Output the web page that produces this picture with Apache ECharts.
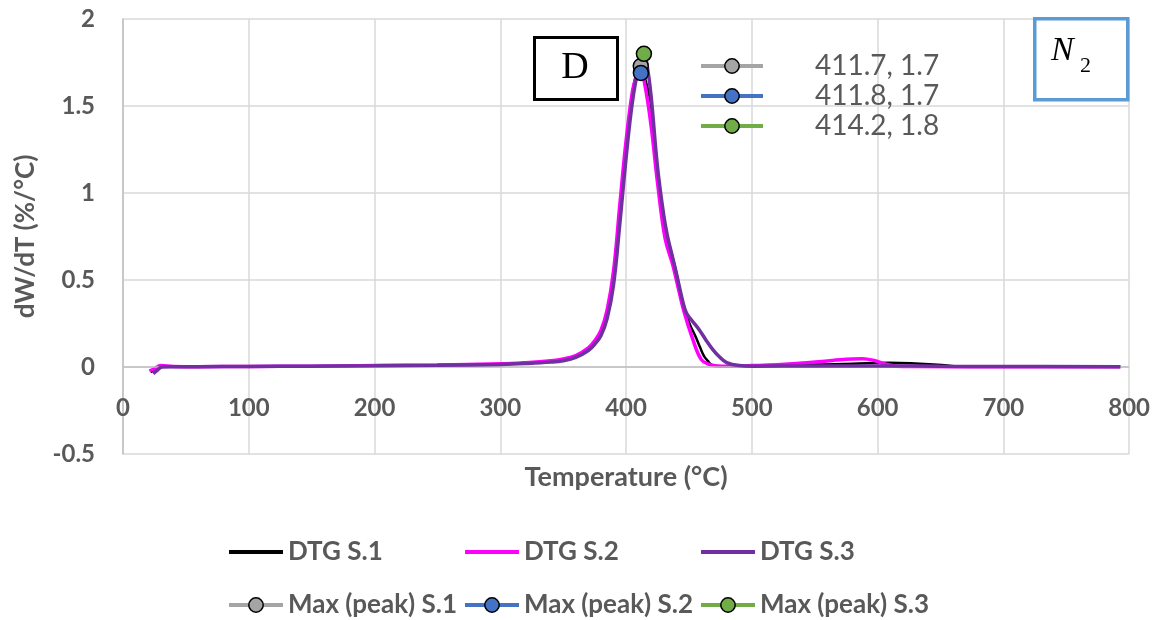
<!DOCTYPE html>
<html>
<head>
<meta charset="utf-8">
<script src="https://cdn.jsdelivr.net/npm/echarts@6/dist/echarts.min.js"></script>
<style>
  html, body { margin: 0; padding: 0; background: #ffffff; }
  #chart { width: 1153px; height: 620px; }
</style>
</head>
<body>
<div id="chart"></div>
<script>
// DTG curves (temperature in °C, dW/dT in %/°C)
const tempS1 = [22, 26, 30, 40, 60, 100, 150, 200, 250, 300, 320, 340, 350, 360, 370, 375, 380, 385, 390, 395, 400, 405, 408, 411.7, 415, 420, 425, 430, 433, 437, 440, 445, 448, 451, 455.6, 459, 462, 465, 468, 472, 480, 500, 550, 580, 610, 630, 651, 661, 700, 793];
const dtgS1  = [-0.03, -0.012, 0.002, 0.002, 0.002, 0.003, 0.005, 0.008, 0.011, 0.016, 0.021, 0.03, 0.04, 0.06, 0.10, 0.14, 0.19, 0.30, 0.50, 0.87, 1.26, 1.57, 1.68, 1.73, 1.66, 1.50, 1.12, 0.86, 0.74, 0.63, 0.54, 0.37, 0.30, 0.24, 0.17, 0.11, 0.063, 0.035, 0.012, 0.006, 0.004, 0.006, 0.014, 0.019, 0.024, 0.02, 0.012, 0.005, 0.002, 0.002];

const tempS2 = [21, 25, 30, 40, 60, 100, 150, 200, 250, 300, 320, 340, 350, 360, 370, 375, 380, 385, 390, 395, 400, 405, 408, 411.8, 415, 420, 425, 431, 437, 441, 446, 453, 459.7, 466, 472, 480, 500, 520, 538, 564, 588, 598, 606, 615, 630, 700, 793];
const dtgS2  = [-0.023, -0.01, 0.008, 0.003, 0.002, 0.003, 0.005, 0.008, 0.012, 0.018, 0.025, 0.036, 0.046, 0.066, 0.11, 0.15, 0.21, 0.33, 0.55, 0.93, 1.30, 1.58, 1.66, 1.69, 1.62, 1.38, 1.06, 0.74, 0.59, 0.47, 0.32, 0.16, 0.044, 0.015, 0.006, 0.004, 0.008, 0.013, 0.021, 0.038, 0.048, 0.036, 0.017, 0.005, 0.003, 0.002, 0.002];

const tempS3 = [24, 27, 31, 40, 60, 100, 150, 200, 250, 300, 320, 340, 350, 360, 370, 375, 380, 385, 390, 395, 400, 405, 410, 414.2, 417, 420, 425, 430, 433, 437, 440, 445, 448, 452, 458, 464, 469, 474, 480, 490, 500, 550, 600, 650, 700, 793];
const dtgS3  = [-0.038, -0.02, 0.0, 0.002, 0.002, 0.003, 0.005, 0.007, 0.01, 0.015, 0.02, 0.028, 0.036, 0.055, 0.095, 0.13, 0.18, 0.28, 0.47, 0.82, 1.20, 1.52, 1.72, 1.80, 1.72, 1.55, 1.15, 0.87, 0.75, 0.63, 0.54, 0.38, 0.31, 0.27, 0.216, 0.15, 0.10, 0.06, 0.025, 0.008, 0.005, 0.006, 0.006, 0.004, 0.003, 0.002];

// peak maxima of each run
const peakNames = ['Max (peak) S.1', 'Max (peak) S.2', 'Max (peak) S.3'];
const peakT = [411.7, 411.8, 414.2];
const peakV = [1.73, 1.69, 1.80];

const dtgNames = ['DTG S.1', 'DTG S.2', 'DTG S.3'];
const dtgColors = ['#000000', '#ff00ff', '#7030a0'];
const dtgWidths = [2.5, 3.5, 3.5];
const peakColors = ['#a5a5a5', '#4472c4', '#70ad47'];

const FONT = 'Lato, "Open Sans", sans-serif';
const SERIF = '"Liberation Serif", "DejaVu Serif", serif';
const GREY_TEXT = '#595959';

const pairs = (t, v) => t.map((x, i) => [x, v[i]]);
const dtgData = [pairs(tempS1, dtgS1), pairs(tempS2, dtgS2), pairs(tempS3, dtgS3)];

const peakLabel = {};
peakNames.forEach((n, i) => { peakLabel[n] = peakT[i].toFixed(1) + ', ' + peakV[i].toFixed(1); });

const series = [];
dtgNames.forEach((name, i) => {
  const s = {
    name: name,
    type: 'line',
    data: dtgData[i],
    symbol: 'none',
    smooth: 0.4,
    lineStyle: { color: dtgColors[i], width: dtgWidths[i] },
    itemStyle: { color: dtgColors[i] },
    z: 3 + i
  };
  if (i === 0) {
    // horizontal axis line at zero
    s.markLine = {
      silent: true, symbol: 'none', label: { show: false },
      lineStyle: { color: '#bfbfbf', width: 1.5, type: 'solid' },
      data: [{ yAxis: 0 }]
    };
  }
  series.push(s);
});
peakNames.forEach((name, i) => {
  series.push({
    name: name,
    type: 'line',
    data: [[peakT[i], peakV[i]]],
    symbol: 'circle',
    symbolSize: 15,
    showSymbol: true,
    lineStyle: { color: peakColors[i], width: 4 },
    itemStyle: { color: peakColors[i], borderColor: '#000000', borderWidth: 1.5 },
    z: 10 + i
  });
});

// bottom legend: three columns, two rows
const legendCols = [222, 458, 694];
const legendRows = [532, 585];
const legendText = { fontFamily: FONT, fontWeight: 'bold', fontSize: 26, color: GREY_TEXT, lineHeight: 30 };
const legends = [];
legendCols.forEach((left, i) => {
  [dtgNames[i], peakNames[i]].forEach((name, r) => {
    legends.push({
      left: left,
      top: legendRows[r],
      itemWidth: 54,
      itemHeight: 18,
      selectedMode: false,
      data: [r === 0 ? { name: name, itemStyle: { opacity: 0 } } : { name: name }],
      lineStyle: { width: 4 },
      itemStyle: { borderColor: '#000000', borderWidth: 1.5 },
      textStyle: legendText
    });
  });
});
// peak values next to the curves
legends.push({
  orient: 'vertical',
  left: 694,
  top: 46,
  itemWidth: 62,
  itemHeight: 18,
  itemGap: 0,
  selectedMode: false,
  data: peakNames,
  formatter: (name) => peakLabel[name],
  lineStyle: { width: 4 },
  itemStyle: { borderColor: '#000000', borderWidth: 1.5 },
  textStyle: { fontFamily: FONT, fontSize: 28, color: GREY_TEXT, lineHeight: 30, padding: [0, 0, 0, 47] }
});

const chart = echarts.init(document.getElementById('chart'), null, { renderer: 'canvas' });
chart.setOption({
  backgroundColor: '#ffffff',
  animation: false,
  grid: { left: 123, right: 23, top: 19, bottom: 166, containLabel: false },
  xAxis: {
    type: 'value',
    min: 0, max: 800, interval: 100,
    name: 'Temperature (\u00B0C)',
    nameLocation: 'middle',
    nameGap: 10,
    nameTextStyle: { fontFamily: FONT, fontWeight: 'bold', fontSize: 27, color: GREY_TEXT },
    axisLine: { show: false, onZero: false },
    axisTick: { show: false },
    // tick labels sit just under the zero line
    axisLabel: { margin: -58, fontFamily: FONT, fontWeight: 'bold', fontSize: 24, color: GREY_TEXT },
    splitLine: { show: true, lineStyle: { color: '#d9d9d9', width: 1.5 } }
  },
  yAxis: {
    type: 'value',
    min: -0.5, max: 2, interval: 0.5,
    name: 'dW/dT (%/\u00B0C)',
    nameLocation: 'middle',
    nameGap: 84,
    nameRotate: 90,
    nameTextStyle: { fontFamily: FONT, fontWeight: 'bold', fontSize: 26, color: GREY_TEXT },
    axisLine: { show: true, onZero: false, lineStyle: { color: '#bfbfbf', width: 1.5 } },
    axisTick: { show: false },
    axisLabel: { margin: 28, fontFamily: FONT, fontWeight: 'bold', fontSize: 24, color: GREY_TEXT },
    splitLine: { show: true, lineStyle: { color: '#d9d9d9', width: 1.5 } }
  },
  legend: legends,
  graphic: [
    {
      type: 'rect', left: 533, top: 36, z: 20,
      shape: { width: 83, height: 62 },
      style: { fill: '#ffffff', stroke: '#000000', lineWidth: 3 }
    },
    {
      type: 'text', x: 575, y: 68, z: 21,
      style: { text: 'D', fontFamily: SERIF, fontSize: 38, fill: '#000000', align: 'center', verticalAlign: 'middle' }
    },
    {
      type: 'rect', left: 1033, top: 17, z: 20,
      shape: { width: 93, height: 81 },
      style: { fill: '#ffffff', stroke: '#5b9bd5', lineWidth: 3.5 }
    },
    {
      type: 'text', left: 1051, top: 34, z: 21,
      style: { text: 'N', fontFamily: SERIF, fontStyle: 'italic', fontSize: 34, fill: '#000000' }
    },
    {
      type: 'text', left: 1080, top: 55, z: 21,
      style: { text: '2', fontFamily: SERIF, fontSize: 22, fill: '#000000' }
    }
  ],
  series: series
});
</script>
</body>
</html>
